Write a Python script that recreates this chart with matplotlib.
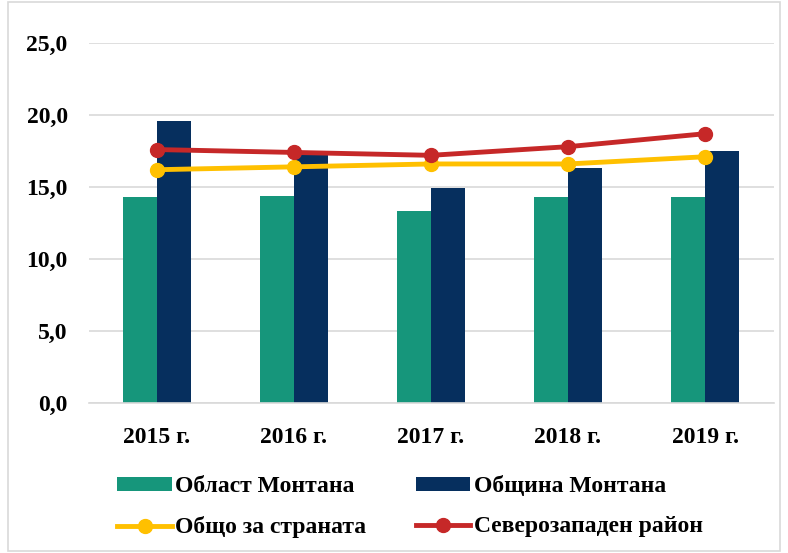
import numpy as np
import matplotlib
matplotlib.use("Agg")
import matplotlib.pyplot as plt
from matplotlib.patches import Rectangle
from matplotlib.ticker import FuncFormatter

years = ["2015 г.", "2016 г.", "2017 г.", "2018 г.", "2019 г."]
oblast = [14.3, 14.4, 13.3, 14.3, 14.3]
obshtina = [19.6, 17.2, 14.9, 16.3, 17.5]
country = [16.2, 16.4, 16.6, 16.6, 17.1]
northwest = [17.6, 17.4, 17.2, 17.8, 18.7]

plt.rcParams['font.family'] = ['Liberation Serif', 'DejaVu Serif']
plt.rcParams['font.weight'] = 'bold'

fig = plt.figure(figsize=(7.88, 5.53), dpi=100)
ax = fig.add_axes([88.5 / 788, 1 - 403 / 553, (773.5 - 88.5) / 788, 360 / 553])

x = np.arange(len(years))
w = 0.245
b1 = ax.bar(x - w / 2, oblast, w, color='#16967b', label='Област Монтана', zorder=2)
b2 = ax.bar(x + w / 2, obshtina, w, color='#062f5e', label='Община Монтана', zorder=2)
l1, = ax.plot(x, country, color='#ffc000', lw=3.5, marker='o', ms=10, label='Общо за страната', zorder=3)
l2, = ax.plot(x, northwest, color='#c62828', lw=3.5, marker='o', ms=10, label='Северозападен район', zorder=4)

ax.set_xlim(-0.5, len(years) - 0.5)
ax.set_ylim(0, 25)
ax.set_yticks(np.arange(0, 26, 5))
ax.yaxis.set_major_formatter(FuncFormatter(lambda v, p: f"{v:.1f}".replace('.', ',')))
ax.set_xticks(x)
ax.set_xticklabels(years)
ax.grid(axis='y', color='#d9d9d9', lw=1.2, zorder=0)
for s in ['top', 'right', 'left']:
    ax.spines[s].set_visible(False)
ax.spines['bottom'].set_color('#d9d9d9')
ax.spines['bottom'].set_linewidth(1.2)
ax.tick_params(length=0, labelsize=17)
ax.tick_params(axis='y', pad=15)
ax.tick_params(axis='x', pad=17)

fig.legend([b1, l1, b2, l2], [b1.get_label(), l1.get_label(), b2.get_label(), l2.get_label()],
           loc='upper left', bbox_to_anchor=(108 / 788, 1 - 467 / 553), ncol=2, frameon=False,
           fontsize=17, handlelength=2.3, columnspacing=2.1, handletextpad=0.15,
           labelspacing=0.8, handleheight=0.5, borderaxespad=0)

fig.patches.append(Rectangle((8 / 788, 0.003), 1 - 16 / 788, 0.994, transform=fig.transFigure,
                             fill=False, edgecolor='#d9d9d9', lw=1.2))

fig.savefig('out.png', dpi=100)
